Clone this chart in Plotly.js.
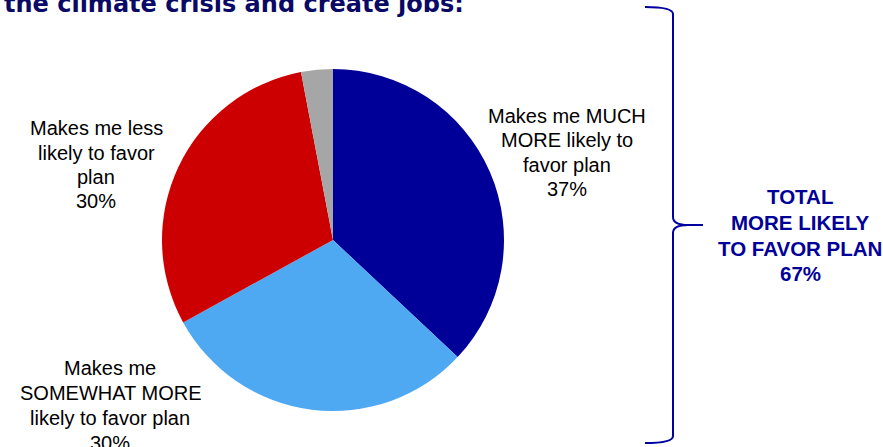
<!DOCTYPE html>
<html>
<head>
<meta charset="utf-8">
<script src="https://cdn.plot.ly/plotly-3.0.1.min.js"></script>
<style>html,body{margin:0;padding:0;background:#fff;}#chart{width:883px;height:447px;}</style>
</head>
<body>
<div id="chart"></div>
<script>
// Data
const categories = [
  "Makes me MUCH MORE likely to favor plan",
  "Makes me SOMEWHAT MORE likely to favor plan",
  "Makes me less likely to favor plan",
  "Don't know"
];
const values = [37, 30, 30, 3];
const sliceColors = ["#000099", "#4FA8F2", "#CC0000", "#A6A6A6"];
const labelLinesMuch = ["Makes me MUCH", "MORE likely to", "favor plan", "37%"];
const labelLinesSomewhat = ["Makes me", "SOMEWHAT MORE", "likely to favor plan", "30%"];
const labelLinesLess = ["Makes me less", "likely to favor", "plan", "30%"];
const totalLines = ["TOTAL", "MORE LIKELY", "TO FAVOR PLAN", "67%"];
const titleText = "the climate crisis and create jobs:";

const W = 883, H = 447;
const px = x => x / W;
const py = y => 1 - y / H;

// pie geometry (pixels)
const cx = 333, cy = 240, r = 171;

const trace = {
  type: "pie",
  labels: categories,
  values: values,
  sort: false,
  direction: "clockwise",
  rotation: 0,
  marker: {colors: sliceColors, line: {width: 0}},
  textinfo: "none",
  hoverinfo: "label+percent",
  showlegend: false,
  domain: {x: [px(cx - r), px(cx + r)], y: [py(cy + r), py(cy - r)]}
};

// Brace path in pixels -> paper
const bracePts = [
  ["M", 645, 7], ["Q", 673, 7, 673, 14], ["L", 673, 217],
  ["Q", 673, 225, 688, 225], ["L", 703, 225],
  ["M", 688, 225], ["Q", 673, 225, 673, 233], ["L", 673, 436],
  ["Q", 673, 443, 645, 443]
];
const bracePath = bracePts.map(s => {
  const cmd = s[0];
  const nums = s.slice(1);
  const out = [];
  for (let i = 0; i < nums.length; i += 2) out.push(px(nums[i]).toFixed(5) + "," + py(nums[i+1]).toFixed(5));
  return cmd + out.join(" ");
}).join(" ");

const labelFont = {family: "Liberation Sans, Arial, sans-serif", size: 20, color: "#000000"};
const totalFont = {family: "Liberation Sans, Arial, sans-serif", size: 20.5, color: "#000099"};

// one annotation per line, placed by baseline (pixels)
function lineAnns(lines, xCenter, firstBaseline, step, font, bold) {
  return lines.map((t, i) => ({
    text: bold ? "<b>" + t + "</b>" : t,
    xref: "paper", yref: "paper",
    x: px(xCenter), y: py(firstBaseline + i * step - 0.35 * font.size),
    xanchor: "center", yanchor: "middle", showarrow: false, align: "center", font: font
  }));
}

const annotations = [
  {text: "<b>" + titleText + "</b>", xref: "paper", yref: "paper", x: px(2), y: py(4),
   xanchor: "left", yanchor: "middle", showarrow: false,
   font: {family: "DejaVu Sans, Verdana, sans-serif", size: 24, color: "#0A0A66"}}
].concat(
  lineAnns(labelLinesMuch, 567, 123, 24.3, labelFont, false),
  lineAnns(labelLinesLess, 96, 135, 24.5, labelFont, false),
  lineAnns(labelLinesSomewhat, 110, 375, 25, labelFont, false),
  lineAnns(totalLines, 800, 204, 25.7, totalFont, true)
);

const layout = {
  width: W, height: H,
  margin: {l: 0, r: 0, t: 0, b: 0},
  paper_bgcolor: "#ffffff",
  plot_bgcolor: "#ffffff",
  shapes: [{
    type: "path", xref: "paper", yref: "paper", path: bracePath,
    line: {color: "#0000A0", width: 2}
  }],
  annotations: annotations
};

Plotly.newPlot("chart", [trace], layout, {displayModeBar: false, staticPlot: true});
</script>
</body>
</html>
